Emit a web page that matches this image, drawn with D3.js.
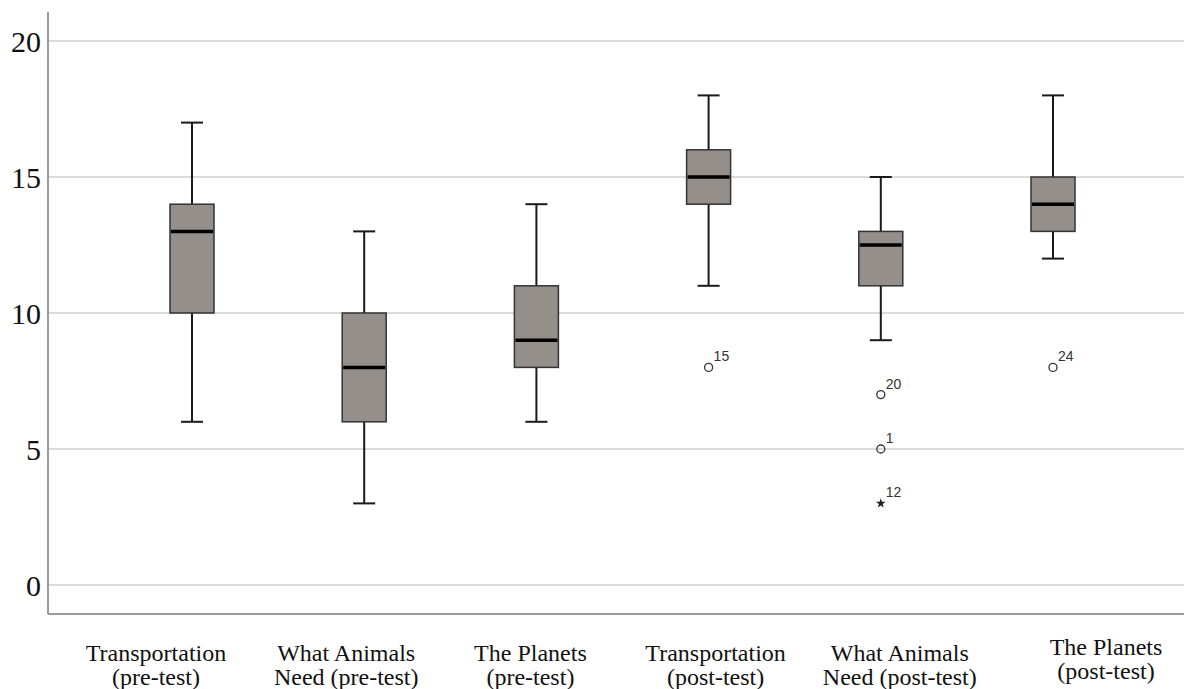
<!DOCTYPE html>
<html>
<head>
<meta charset="utf-8">
<script src="https://cdn.jsdelivr.net/npm/d3@7"></script>
<style>
  body { margin: 0; background: #fff; }
</style>
</head>
<body>
<div id="chart"></div>
<script>
// categories, one box per test
const categories = [
  "Transportation (pre-test)",
  "What Animals Need (pre-test)",
  "The Planets (pre-test)",
  "Transportation (post-test)",
  "What Animals Need (post-test)",
  "The Planets (post-test)"
];
const labelLines = [
  ["Transportation", "(pre-test)"],
  ["What Animals", "Need (pre-test)"],
  ["The Planets", "(pre-test)"],
  ["Transportation", "(post-test)"],
  ["What Animals", "Need (post-test)"],
  ["The Planets", "(post-test)"]
];
// five-number summary (whisker ends, quartiles, median)
const whiskerLow = [6, 3, 6, 11, 9, 12];
const q1 = [10, 6, 8, 14, 11, 13];
const median = [13, 8, 9, 15, 12.5, 14];
const q3 = [14, 10, 11, 16, 13, 15];
const whiskerHigh = [17, 13, 14, 18, 15, 18];
// outliers: category index, value, case number, kind
const outlierCat = [3, 4, 4, 4, 5];
const outlierVal = [8, 7, 5, 3, 8];
const outlierCase = ["15", "20", "1", "12", "24"];
const outlierKind = ["o", "o", "o", "*", "o"];
const yTicks = [0, 5, 10, 15, 20];

const width = 1184;
const height = 689;

const svg = d3.select('#chart')
  .append('svg')
  .attr('width', width)
  .attr('height', height);

const axisX = 48;
const axisBottom = 614;

const x = d3.scalePoint()
  .domain(categories)
  .range([192, 1053]);

const y = d3.scaleLinear()
  .domain([0, 20])
  .range([585, 41]);

const boxW = 44;

// gridlines
svg.append('g')
  .selectAll('line')
  .data(yTicks)
  .join('line')
  .attr('x1', axisX)
  .attr('x2', width)
  .attr('y1', d => y(d))
  .attr('y2', d => y(d))
  .attr('stroke', '#cfcfcf')
  .attr('stroke-width', 1.6);

// y tick labels
svg.append('g')
  .selectAll('text')
  .data(yTicks)
  .join('text')
  .attr('x', 41)
  .attr('y', d => y(d))
  .attr('dy', '0.35em')
  .attr('text-anchor', 'end')
  .style('font-family', '"Liberation Serif", "Times New Roman", serif')
  .style('font-size', '30px')
  .style('fill', '#111')
  .text(d => d);

// axis lines
svg.append('line')
  .attr('x1', axisX).attr('x2', axisX)
  .attr('y1', 12).attr('y2', axisBottom)
  .attr('stroke', '#9a9a9a').attr('stroke-width', 2);
svg.append('line')
  .attr('x1', axisX).attr('x2', width)
  .attr('y1', axisBottom).attr('y2', axisBottom)
  .attr('stroke', '#9a9a9a').attr('stroke-width', 2);

const idx = d3.range(categories.length);
const boxes = svg.append('g')
  .selectAll('g')
  .data(idx)
  .join('g');

// whiskers
boxes.append('line')
  .attr('x1', i => x(categories[i])).attr('x2', i => x(categories[i]))
  .attr('y1', i => y(whiskerHigh[i])).attr('y2', i => y(q3[i]))
  .attr('stroke', '#1a1a1a').attr('stroke-width', 2);
boxes.append('line')
  .attr('x1', i => x(categories[i])).attr('x2', i => x(categories[i]))
  .attr('y1', i => y(q1[i])).attr('y2', i => y(whiskerLow[i]))
  .attr('stroke', '#1a1a1a').attr('stroke-width', 2);
// caps
[whiskerHigh, whiskerLow].forEach(arr => {
  boxes.append('line')
    .attr('x1', i => x(categories[i]) - boxW / 4)
    .attr('x2', i => x(categories[i]) + boxW / 4)
    .attr('y1', i => y(arr[i])).attr('y2', i => y(arr[i]))
    .attr('stroke', '#1a1a1a').attr('stroke-width', 2);
});

// boxes
boxes.append('rect')
  .attr('x', i => x(categories[i]) - boxW / 2)
  .attr('y', i => y(q3[i]))
  .attr('width', boxW)
  .attr('height', i => y(q1[i]) - y(q3[i]))
  .attr('fill', '#958f8c')
  .attr('stroke', '#333')
  .attr('stroke-width', 1.5);

// medians
boxes.append('line')
  .attr('x1', i => x(categories[i]) - boxW / 2 + 1)
  .attr('x2', i => x(categories[i]) + boxW / 2 - 1)
  .attr('y1', i => y(median[i])).attr('y2', i => y(median[i]))
  .attr('stroke', '#000').attr('stroke-width', 3.5);

// outliers
const outs = svg.append('g')
  .selectAll('g')
  .data(d3.range(outlierVal.length))
  .join('g')
  .attr('transform', j => `translate(${x(categories[outlierCat[j]])},${y(outlierVal[j])})`);

outs.filter(j => outlierKind[j] === 'o')
  .append('circle')
  .attr('r', 4)
  .attr('fill', 'none')
  .attr('stroke', '#333')
  .attr('stroke-width', 1.3);

outs.filter(j => outlierKind[j] === '*')
  .append('path')
  .attr('d', d3.symbol(d3.symbolStar, 30))
  .attr('fill', '#222');

outs.append('text')
  .attr('x', 5)
  .attr('y', -6)
  .style('font-family', '"Liberation Sans", Arial, sans-serif')
  .style('font-size', '14px')
  .style('fill', '#333')
  .text(j => outlierCase[j]);

// category labels (the source image has them slightly shifted from the boxes)
const labelShift = [-36, -18, -6, 7, 19, 53];
const labelLift = [0, 0, 0, 0, 0, -6];
const labels = svg.append('g')
  .selectAll('text')
  .data(idx)
  .join('text')
  .attr('text-anchor', 'middle')
  .style('font-family', '"Liberation Serif", "Times New Roman", serif')
  .style('font-size', '24px')
  .style('fill', '#111');

labels.selectAll('tspan')
  .data(i => labelLines[i].map(t => ({ t, i })))
  .join('tspan')
  .attr('x', d => x(categories[d.i]) + labelShift[d.i])
  .attr('y', (d, k) => 661 + labelLift[d.i] + k * 24)
  .text(d => d.t);
</script>
</body>
</html>
